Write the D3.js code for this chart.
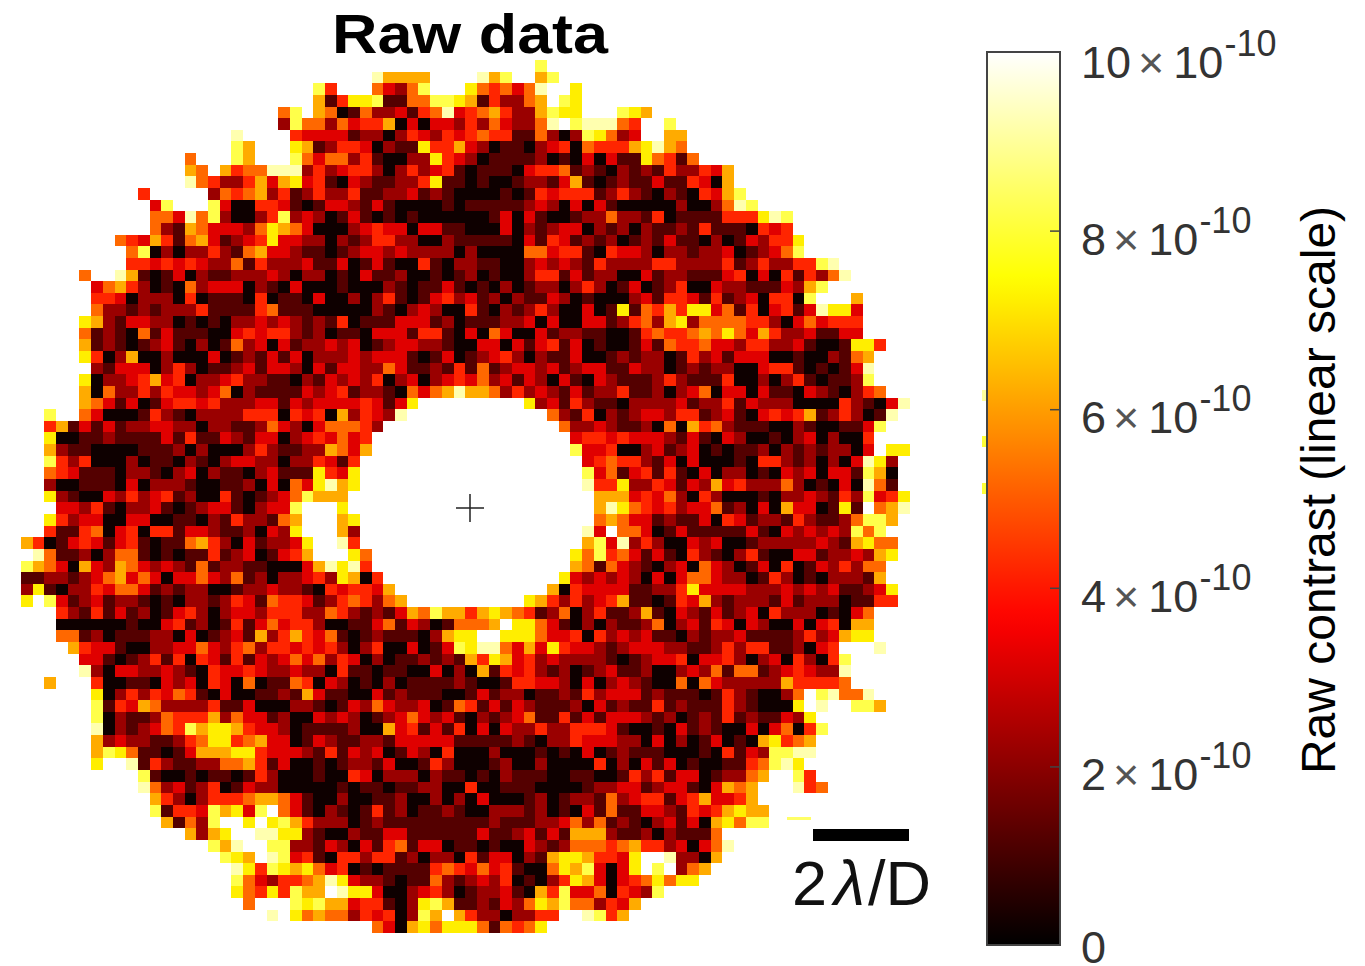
<!DOCTYPE html>
<html>
<head>
<meta charset="utf-8">
<title>Raw data</title>
<script src="https://cdn.jsdelivr.net/npm/d3@7"></script>
<style>
  body { margin: 0; background: #fff; }
  text { font-family: "Liberation Sans", Arial, sans-serif; }
</style>
</head>
<body>
<div id="chart"></div>
<script>
// contrast per pixel, binned in units of 1e-10, one char per cell:
// 0-9, a = 10 and over, . = no data. spaces are only there to group the digits
// first column of each row
var firstCol = [44,30,25,25,22,22,18,18,14,14,14,10,11,11,11,8,9,9,5,6,6,6,5,5,5,5,6,5,5,5,2,2,2,2,2,2,2,2,3,2,2,0,1,0,0,0,0,3,3,3,4,5,5,2,6,6,6,6,6,6,6,10,10,11,11,12,14,16,17,18,18,18,19,21,30];

var rows = [
"8",
"96666....968..68",
"84...53258...7545359..7",
"61477811558876142256.87",
"58.65015223145934564226877...876",
"285525344603033242532259a899954..8",
"9....433331220243243454411520287523..66",
"86...7612443021174463201102340544467965",
"5...86...85355241002274320111120103031175415",
"65.64559992423442024234101110344512102121422436",
"95422463673410321122471101001221361012113114306",
"4.....2545624124224112231210000101434441242102104368",
"38...83004431013321310000101111123203031000002002598",
"5539582002482320131010100000013031001225221401111444798",
"5216533325765300023433033110003021233021202112141110434",
"54364156312347332202124422002111110314312120121311020132447",
"5802022421563321101233232222020000553441043320221223012358",
"4434343225142223113013100410221100232321422224422224124224489",
"5..961013021122232022010311200101201002441312200312211134030414259",
"356420105233302103000100021011310102012202420130124003221113268",
"443022204011104011030020241013423 12021132010002314431 412304408 ...6",
"5221212224 1111451110 0000210232 004 1021242003 0171546477 3514034139 773",
"7621332201 0102232321 2140111333 1201 1122303003 3124526725 5554420353 444",
"5121051311 1003434421 2011033314 4103 0530031221 1001454456 5753642231 133",
"6121012310 2015230312 2323012332 2100 3303134130 1001315445 3324422310 01774",
"7402600200 0301213130 2223233310 1301 2342021130 0121220142 3133300100 2156",
"2133302420 1123133203 1332253112 141 5123323123 3113220121 2200344101 0139",
"7022346340 2234221102 1323240230 2343 5231320310 3211124211 1400202410 1128",
"6052242433 2350211113 2341221053 5696 6524232131 2241120235 0330311032 10245",
"6531301344 3422233132 333343137 ......... 7231421102 2223122413 2220000421 039",
"8.. 5300014210 2222444043 40624329 ............ 5214021233 2441231034 3461242019",
"4613131223 3220221125 320355542 ............... 5223211205 0645211100 21001138",
"7001121111 3141132133 02343534 ................. 3443433321 3103200102 302004",
"6211000011 1202000242 11226536 ................. 8334002312 3010112021 212203.77",
"8424000201 1021023322 0224314 ................... 3454421303 0001044212 0203972",
"5431110221 0230211023 1117437 ................... 8351341410 3022010323 0331860",
"2001110302 2210011203 0537967 ................... 9447224313 2634222520 1030951",
"7210032423 4120041012 358666 ..................... 6663435204 2000102232 1428347",
"3324102231 0123310233 8aaa7 ..................... 6975434233 5120306330 171a569",
"7423300330 0110214221 56aaa67 .................... 5653312113 0431221421 125886",
"4114503404 4133211203 27aaa62 ................... 93a5530131 1111310323 232858",
"6401343134 1011564203 12237aa94 ................... 6839242003 2300122222 3216755",
"9511202551 0101141230 1346aaa75 ................. 7584531310 4210241003 31223267",
"8653063265 3232151221 1000369794 ................. 6515321023 0532013040 1324255",
"1122123563 5303353251 2022342760 4 ............... 7323232030 3553220142 01022216",
"2710224355 3121220012 2322104344 36 ............. 6043333112 2473333222 3232311237",
"7.83123122 1010221243 1544312454 256 .......... 7642423461 1014362122 2131222011 44",
"4214131201 3420233244 4225421213 658664 6765412502 4112610321 3123042220 1035",
"0000001003 4120141353 4420011351 320155 56a7753102 0211250231 4303200303 4066",
"5512011122 0301231624 6435101211 102677 aa77753340 4232311021 2231111242 3677",
"6433100223 3532452443 4342024003 01387 9953637433 2123332211 2424411203 4aaa9",
"3310124140 4314132353 5243020112 1216 4763423222 2101233403 3420230420 48",
"9203322321 0433432232 2041101100 3020 6143421201 2311200232 5155123432 29",
"6...400110 3230430501 1540320102 0111121 0014433203 0232100505 3222226444 45",
"7024243541 0300112163 1100312111 001 3122011214 2333121110 14210025a8 9559",
"8143652222 4113000221 0132532230 154 1313211120 3121141211 14210007a9 ..886",
"8021125444 6253312003 2320123532 310 2123511413 1333212012 141211327",
"9021235486 7764332011 1120063413 140 3032242244 4310010312 1003035048",
"6232211245 7745633013 2112213333 311 1112102243 3322030201 301067456",
"6875110136 6677433321 4132301320 400 0200010103 0121110001 041328899",
"7..9142112 2556413001 0122130014 200 0120020000 4020313010 01145897",
"8100101101 4200010043 022202110 1021110011 0014241330 12256..84",
"9523124013 2200000101 101122004 0011100001 2233123310 3656...945",
"6420244456 6531002001 12002020 3000120122 1523441346 3346",
"8144386738 a531021014 12011210 0222120103 1511332143 46766",
"61528aa7a7 8642220121 1111111 1211122352 5121023130 67588",
"6267aa9977 2100211331 11111 3112313166 6211202111 5",
"869aa88221 3203145133 011 0100321255 5456442303 59",
"876a983410 4424412022 04 1330216776 4437aa9220 6",
"9748767534 0101111454 3 5341005768 3037a8a256",
"8532445697 3221011521 2 3240102476 303457577",
"75474866a9 7730023420 1 2231064833 504328",
"5... 8786634410 278611 2132576855 2436",
"9. 7565524340 286a64 2202244..9846",
"530675777 515457"
];

var colorTicks = [0, 2, 4, 6, 8, 10];
var exponent = "-10";

// slivers of image left behind the colorbar frame
var speckValues = [9, 8, 8];
var speckTops = [390, 436, 483];

var title = "Raw data";
var colorLabel = "Raw contrast (linear scale)";

var svgWidth = 1365;
var svgHeight = 966;

var svg = d3.select("#chart")
  .append("svg")
  .attr("width", svgWidth)
  .attr("height", svgHeight);

// matlab "hot": black to red to yellow to white
var colorScale = d3.scaleLinear()
  .domain([0, 3.65, 7.46, 10])
  .range(["#000000", "#ff0000", "#ffff00", "#ffffff"])
  .clamp(true);

var nCols = 76;
var nRows = rows.length;

var xScale = d3.scaleBand().domain(d3.range(nCols)).range([21, 909.5]);
var yScale = d3.scaleBand().domain(d3.range(nRows)).range([60, 933]);

// flatten rows to cells, a digit stands for a point inside its bin
var cells = [];
rows.forEach(function(row, r) {
  row.replace(/ /g, "").split("").forEach(function(ch, i) {
    if (ch !== ".") {
      cells.push({ row: r, col: firstCol[r] + i, value: parseInt(ch, 11) + 0.2 });
    }
  });
});

svg.append("g")
  .attr("shape-rendering", "crispEdges")
  .selectAll("rect")
  .data(cells)
  .enter()
  .append("rect")
  .attr("x", d => xScale(d.col))
  .attr("y", d => yScale(d.row))
  .attr("width", xScale.bandwidth())
  .attr("height", yScale.bandwidth())
  .attr("fill", d => colorScale(d.value));

// title
svg.append("text")
  .attr("x", 470)
  .attr("y", 53)
  .attr("text-anchor", "middle")
  .attr("font-size", 56)
  .attr("font-weight", "bold")
  .attr("textLength", 276)
  .attr("lengthAdjust", "spacingAndGlyphs")
  .attr("fill", "#000")
  .text(title);

// centre cross
svg.append("path")
  .attr("d", "M456,508H484M470,494V522")
  .attr("stroke", "#222")
  .attr("stroke-width", 1.5)
  .attr("fill", "none");

// scale bar
svg.append("rect")
  .attr("x", 813)
  .attr("y", 829)
  .attr("width", 96)
  .attr("height", 12)
  .attr("fill", "#000");

var scaleText = svg.append("text")
  .attr("x", 792)
  .attr("y", 905)
  .attr("font-size", 63)
  .attr("fill", "#111");

scaleText.append("tspan").text("2");
scaleText.append("tspan").attr("dx", 7).attr("font-style", "italic").text("\u03bb");
scaleText.append("tspan").attr("dx", 3).text("/D");

// leftover sliver of the image next to the scale bar
svg.append("rect")
  .attr("x", 787)
  .attr("y", 817)
  .attr("width", 24)
  .attr("height", 3)
  .attr("fill", "#ffff66");

// colorbar
var barLeft = 987;
var barRight = 1060;
var barScale = d3.scaleLinear().domain([0, 10]).range([945, 52]);

svg.append("g")
  .selectAll("rect")
  .data(speckValues)
  .enter()
  .append("rect")
  .attr("x", barLeft - 5)
  .attr("y", (d, i) => speckTops[i])
  .attr("width", 5)
  .attr("height", 11)
  .attr("fill", d => colorScale(d));

var gradient = svg.append("defs")
  .append("linearGradient")
  .attr("id", "hot")
  .attr("x1", 0).attr("x2", 0)
  .attr("y1", 1).attr("y2", 0);

gradient.selectAll("stop")
  .data(d3.range(0, 10.01, 0.25))
  .enter()
  .append("stop")
  .attr("offset", d => d / 10)
  .attr("stop-color", d => colorScale(d));

svg.append("rect")
  .attr("x", barLeft)
  .attr("y", barScale(10))
  .attr("width", barRight - barLeft)
  .attr("height", barScale(0) - barScale(10))
  .attr("fill", "url(#hot)")
  .attr("stroke", "#444")
  .attr("stroke-width", 2);

var barAxis = d3.axisLeft(barScale)
  .tickValues(colorTicks.slice(1, -1))
  .tickSize(10)
  .tickFormat("");

var axisGroup = svg.append("g")
  .attr("transform", `translate(${barRight}, 0)`)
  .call(barAxis);

axisGroup.select(".domain").remove();
axisGroup.selectAll("line").attr("stroke", "#444").attr("stroke-width", 1.5);

// tick labels, "n x 10^-10"
var labels = svg.append("g")
  .selectAll("text")
  .data(colorTicks)
  .enter()
  .append("text")
  .attr("x", 1081)
  .attr("y", d => barScale(d) + (d === 0 ? 18 : (d === 10 ? 26 : 24)))
  .attr("font-size", 45)
  .attr("fill", "#333");

labels.append("tspan").text(d => d);

var withPower = labels.filter(d => d !== 0);
withPower.append("tspan").attr("dx", 7).attr("fill", "#555").text("\u00d7");
withPower.append("tspan").attr("dx", 9).text("10");
withPower.append("tspan")
  .attr("dx", 1)
  .attr("dy", -22)
  .attr("font-size", 36)
  .text(exponent);

// colorbar label
svg.append("text")
  .attr("transform", "translate(1335, 490) rotate(-90)")
  .attr("text-anchor", "middle")
  .attr("font-size", 48)
  .attr("fill", "#000")
  .text(colorLabel);
</script>
</body>
</html>
